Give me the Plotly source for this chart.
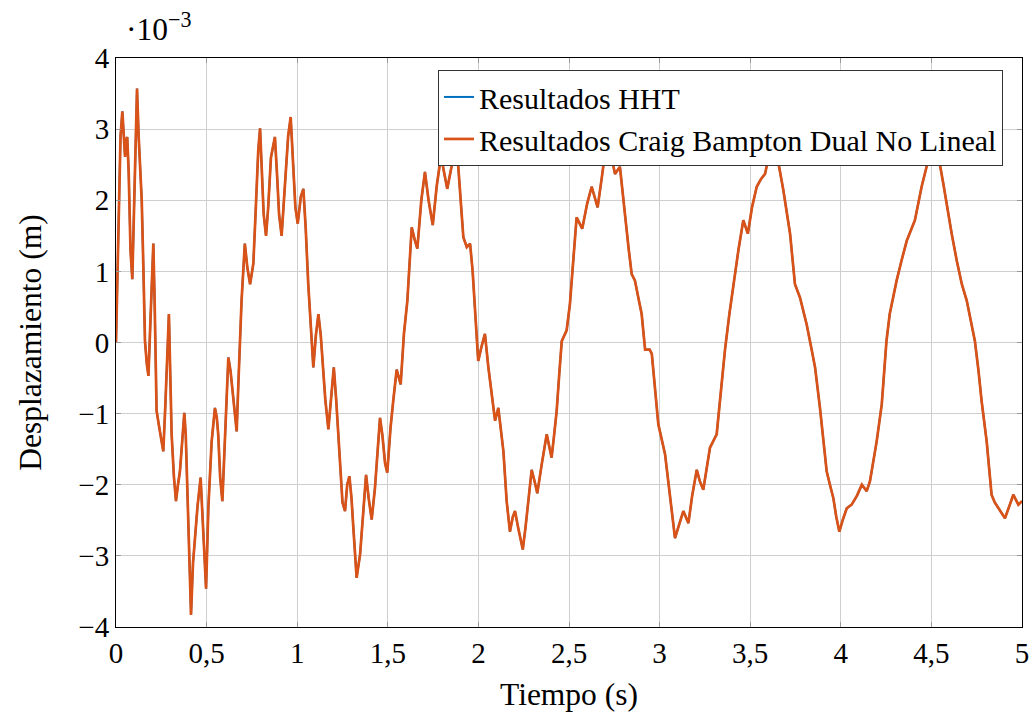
import plotly.graph_objects as go

# time (s) and displacement (x 10^-3 m)
t = [0.000, 0.012, 0.025, 0.035, 0.043, 0.050, 0.057, 0.062, 0.070, 0.080, 0.090, 0.100, 0.108, 0.116, 0.125,
     0.142, 0.151, 0.160, 0.170, 0.179, 0.190, 0.200, 0.206, 0.213, 0.224, 0.239, 0.250, 0.261, 0.272, 0.283,
     0.292, 0.300, 0.307, 0.320, 0.331, 0.342, 0.353, 0.365, 0.377, 0.385, 0.395, 0.404, 0.414, 0.425, 0.436,
     0.450, 0.467, 0.475, 0.485, 0.497, 0.510, 0.520, 0.528, 0.546, 0.556, 0.564, 0.575, 0.587, 0.598, 0.610,
     0.620, 0.632, 0.644, 0.655, 0.666, 0.675, 0.684, 0.693, 0.711, 0.725, 0.740, 0.758, 0.770, 0.785, 0.795,
     0.805, 0.815, 0.828, 0.840, 0.855, 0.877, 0.890, 0.900, 0.914, 0.930, 0.950, 0.964, 0.975, 0.990, 1.003,
     1.020, 1.034, 1.047, 1.061, 1.075, 1.089, 1.103, 1.117, 1.130, 1.141, 1.155, 1.172, 1.188, 1.202, 1.215,
     1.236, 1.250, 1.264, 1.276, 1.288, 1.300, 1.310, 1.320, 1.328, 1.347, 1.365, 1.380, 1.395, 1.411, 1.429,
     1.445, 1.457, 1.470, 1.485, 1.497, 1.515, 1.530, 1.549, 1.571, 1.589, 1.608, 1.620, 1.632, 1.648, 1.663,
     1.685, 1.705, 1.725, 1.748, 1.770, 1.794, 1.810, 1.828, 1.850, 1.871, 1.880, 1.889, 1.905, 1.917, 1.936,
     1.954, 1.968, 1.980, 1.990, 1.999, 2.018, 2.036, 2.055, 2.075, 2.092, 2.110, 2.125, 2.138, 2.156, 2.174,
     2.190, 2.202, 2.220, 2.245, 2.260, 2.276, 2.294, 2.310, 2.325, 2.349, 2.377, 2.390, 2.404, 2.418, 2.432,
     2.446, 2.460, 2.487, 2.505, 2.525, 2.542, 2.573, 2.600, 2.625, 2.658, 2.680, 2.699, 2.715, 2.736, 2.754,
     2.781, 2.809, 2.830, 2.846, 2.864, 2.885, 2.901, 2.920, 2.945, 2.957, 2.975, 2.993, 3.030, 3.057, 3.072,
     3.085, 3.109, 3.131, 3.159, 3.180, 3.205, 3.222, 3.241, 3.278, 3.315, 3.333, 3.361, 3.385, 3.407, 3.435,
     3.462, 3.487, 3.510, 3.536, 3.560, 3.582, 3.609, 3.628, 3.646, 3.665, 3.683, 3.720, 3.747, 3.775, 3.812,
     3.839, 3.858, 3.885, 3.905, 3.922, 3.940, 3.959, 3.975, 3.992, 4.010, 4.033, 4.060, 4.090, 4.116, 4.143,
     4.161, 4.180, 4.198, 4.226, 4.252, 4.270, 4.308, 4.335, 4.364, 4.409, 4.446, 4.482, 4.507, 4.520, 4.538,
     4.566, 4.590, 4.612, 4.640, 4.668, 4.695, 4.715, 4.740, 4.760, 4.777, 4.805, 4.832, 4.850, 4.869, 4.890,
     4.906, 4.930, 4.952, 4.980, 5.000]

disp_hht = [0.00, 1.60, 2.90, 3.25, 2.95, 2.61, 2.85, 2.89, 2.40, 1.30, 0.89, 1.80, 2.90, 3.57, 2.90,
            2.00, 1.06, 0.02, -0.30, -0.47, 0.30, 1.20, 1.39, 0.60, -0.96, -1.20, -1.35, -1.53, -0.90, 0.00,
            0.40, -0.50, -1.29, -1.90, -2.23, -2.00, -1.81, -1.40, -0.99, -1.30, -2.30, -3.08, -3.83, -3.10, -2.70,
            -2.30, -1.90, -2.30, -3.00, -3.46, -2.30, -1.70, -1.39, -0.92, -1.05, -1.29, -1.90, -2.23, -1.50, -0.60,
            -0.21, -0.40, -0.68, -1.00, -1.25, -0.60, 0.07, 0.59, 1.39, 1.05, 0.82, 1.11, 1.80, 2.70, 3.01,
            2.50, 1.80, 1.50, 1.90, 2.60, 2.89, 2.30, 1.80, 1.50, 2.20, 2.90, 3.17, 2.70, 1.90, 1.67,
            2.05, 2.16, 1.60, 0.82, 0.20, -0.35, 0.10, 0.40, 0.10, -0.26, -0.80, -1.22, -0.70, -0.35, -0.80,
            -1.76, -2.25, -2.37, -2.00, -1.88, -2.20, -2.61, -3.10, -3.31, -2.98, -2.30, -1.86, -2.20, -2.49, -2.05,
            -1.40, -1.06, -1.30, -1.70, -1.83, -1.20, -0.82, -0.38, -0.59, 0.12, 0.59, 1.20, 1.62, 1.45, 1.32,
            2.00, 2.40, 2.00, 1.65, 2.20, 2.63, 2.40, 2.16, 2.45, 2.70, 2.95, 2.47, 1.90, 1.48, 1.34,
            1.39, 1.01, 0.50, 0.02, -0.26, -0.05, 0.12, -0.35, -0.80, -1.10, -0.92, -1.25, -1.53, -2.23, -2.66,
            -2.45, -2.37, -2.61, -2.91, -2.60, -2.23, -1.79, -1.95, -2.12, -1.72, -1.29, -1.45, -1.62, -1.30, -0.96,
            -0.45, 0.02, 0.17, 0.54, 1.20, 1.76, 1.60, 1.95, 2.19, 1.90, 2.30, 2.66, 2.85, 2.59, 2.37,
            2.47, 1.76, 1.30, 0.96, 0.87, 0.60, 0.40, -0.10, -0.10, -0.16, -0.70, -1.15, -1.57, -2.14, -2.50,
            -2.75, -2.55, -2.37, -2.54, -2.15, -1.79, -1.95, -2.07, -1.48, -1.29, -0.82, -0.10, 0.40, 0.82, 1.30,
            1.72, 1.53, 1.90, 2.19, 2.30, 2.37, 2.70, 2.85, 2.66, 2.40, 2.14, 1.53, 0.82, 0.63, 0.25,
            -0.10, -0.35, -0.92, -1.40, -1.81, -2.00, -2.19, -2.45, -2.66, -2.50, -2.33, -2.28, -2.15, -2.00, -2.09,
            -1.95, -1.65, -1.39, -0.87, 0.02, 0.40, 0.87, 1.15, 1.43, 1.72, 2.19, 2.56, 2.66, 2.75, 2.63,
            2.23, 1.85, 1.53, 1.15, 0.82, 0.59, 0.35, 0.02, -0.40, -0.82, -1.39, -2.14, -2.25, -2.33, -2.40,
            -2.47, -2.30, -2.14, -2.28, -2.23]

# Craig-Bampton dual non-linear results overlap the HHT results
disp_cb = list(disp_hht)

x_ticks = [0, 0.5, 1, 1.5, 2, 2.5, 3, 3.5, 4, 4.5, 5]
x_ticktext = ["0", "0,5", "1", "1,5", "2", "2,5", "3", "3,5", "4", "4,5", "5"]
y_ticks = [-4, -3, -2, -1, 0, 1, 2, 3, 4]
y_ticktext = ["\u22124", "\u22123", "\u22122", "\u22121", "0", "1", "2", "3", "4"]

scale = 1e-3
FONT = "Liberation Serif"
TICK_SIZE = 29
TEXT_SIZE = 31.5
LEGEND_SIZE = 30

fig = go.Figure()
fig.add_trace(go.Scatter(x=t, y=[v * scale for v in disp_hht], mode="lines",
                         name="Resultados HHT",
                         line=dict(color="#0072BD", width=2)))
fig.add_trace(go.Scatter(x=t, y=[v * scale for v in disp_cb], mode="lines",
                         name="Resultados Craig Bampton Dual No Lineal",
                         line=dict(color="#D95319", width=2.7)))

axis_common = dict(showline=True, linecolor="black", linewidth=1, mirror="ticks",
                   showgrid=True, gridcolor="#cfcfcf", gridwidth=1,
                   ticks="inside", ticklen=5, tickcolor="#9a9a9a",
                   zeroline=False, automargin=False,
                   tickfont=dict(family=FONT, size=TICK_SIZE, color="black"))

fig.update_xaxes(range=[0, 5], tickvals=x_ticks, ticktext=x_ticktext,
                 title=dict(text="Tiempo (s)", font=dict(family=FONT, size=TEXT_SIZE, color="black"), standoff=15),
                 **axis_common)
fig.update_yaxes(range=[-4 * scale, 4 * scale], tickvals=[v * scale for v in y_ticks], ticktext=y_ticktext,
                 title=dict(text="Desplazamiento (m)", font=dict(family=FONT, size=TEXT_SIZE, color="black"), standoff=27),
                 **axis_common)

fig.add_annotation(text="\u00b710<sup>\u22123</sup>", xref="paper", yref="paper",
                   x=0.009, y=1.055, xanchor="left", yanchor="middle", showarrow=False,
                   font=dict(family=FONT, size=TEXT_SIZE, color="black"))

fig.update_layout(
    width=1032, height=713,
    margin=dict(l=116, r=10, t=58, b=86),
    paper_bgcolor="white", plot_bgcolor="white",
    font=dict(family=FONT, size=TEXT_SIZE, color="black"),
    showlegend=True,
    legend=dict(x=0.979, y=0.979, xanchor="right", yanchor="top",
                bgcolor="white", bordercolor="#333", borderwidth=1,
                font=dict(family=FONT, size=LEGEND_SIZE, color="black"),
                itemwidth=30, tracegroupgap=0),
)

fig.write_html("out.html")
